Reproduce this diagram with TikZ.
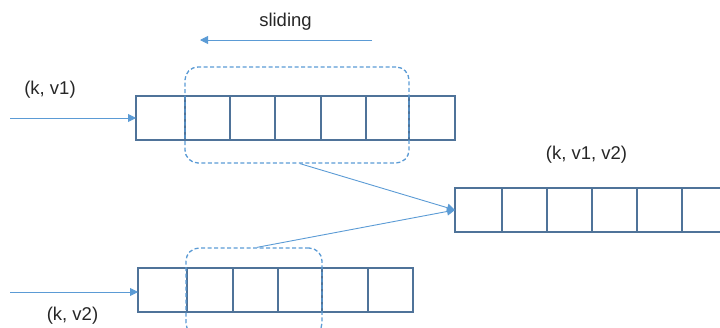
\documentclass[tikz,border=0pt]{standalone}
\usepackage{fontspec}
\setmainfont{Liberation Sans}
\usetikzlibrary{arrows.meta}
\definecolor{cellc}{HTML}{4F7399}
\definecolor{linec}{HTML}{5B9BD5}
\begin{document}
\begin{tikzpicture}[x=1pt,y=-1pt,
  cellbox/.style={draw=cellc,line width=1.5pt,inner sep=0pt,outer sep=0pt,minimum height=44pt},
  winbox/.style={draw=linec,line width=1.3pt,dash pattern=on 4pt off 2.5pt,rounded corners=13pt,inner sep=0pt},
  conn/.style={draw=linec,line width=0.9pt,-{Triangle[length=8pt,width=8pt]}},
  lbl/.style={font=\fontsize{18.5pt}{21pt}\selectfont,text=black!85,inner sep=0pt}]
\clip (0,0) rectangle (720,327);
\path[use as bounding box] (0,0) rectangle (720,327);
% top array
\foreach \i/\a/\b in {1/136/185,2/185/230,3/230/275,4/275/321,5/321/366,6/366/409,7/409/455}
  \node[cellbox,minimum width=\b-\a] (t\i) at ({(\a+\b)/2},118) {};
% bottom array
\foreach \i/\a/\b in {1/138/187,2/187/233,3/233/278,4/278/322,5/322/368,6/368/413}
  \node[cellbox,minimum width=\b-\a] (b\i) at ({(\a+\b)/2},290) {};
% right array
\foreach \i/\a/\b in {1/455/502,2/502/547,3/547/592,4/592/637,5/637/682,6/682/727}
  \node[cellbox,minimum width=\b-\a] (r\i) at ({(\a+\b)/2},210) {};
% sliding windows
\node[winbox,minimum width=224pt,minimum height=96pt] (wtop) at (297,115) {};
\node[winbox,minimum width=136pt,minimum height=88pt] (wbot) at (254,292) {};
% labels
\node[lbl] (l1) at (50,90) {(k, v1)};
\node[lbl] (l2) at (72.5,316) {(k, v2)};
\node[lbl] (l3) at (586.5,155) {(k, v1, v2)};
\node[lbl] (l4) at (285.5,21.5) {sliding};
% coordinates
\coordinate (in1) at (10,118);
\coordinate (in2) at (10,292);
\coordinate (s1) at (372,40);
\coordinate (s2) at (200,40);
% connectors
\draw[conn] (in1) -- (t1.west);
\draw[conn] (in2) -- (b1.west |- in2);
\draw[conn] (s1) -- (s2);
\draw[conn] ([xshift=3pt]wtop.south) -- (r1.west);
\draw[conn] ([xshift=3pt]wbot.north) -- (r1.west);
\end{tikzpicture}
\end{document}
